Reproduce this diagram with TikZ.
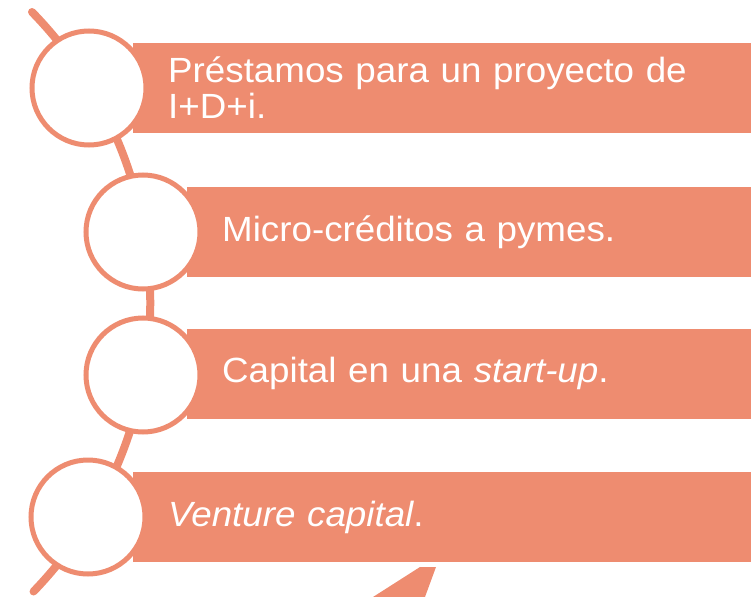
\documentclass[tikz,border=0pt]{standalone}
\usepackage{fontspec}
\setmainfont[FakeStretch=1.05]{Liberation Sans}
\usepackage{tikz}
\definecolor{salmon}{RGB}{238,140,112}

\begin{document}
\begin{tikzpicture}[x=1pt,y=-1pt,
    bar/.style={rectangle,fill=salmon,text=white,anchor=west,minimum height=90pt,
      inner xsep=35pt,inner ysep=0pt,align=left,font=\fontsize{35}{36}\selectfont},
    ring/.style={circle,draw=salmon,fill=white,line width=5pt,minimum size=114pt,inner sep=0pt}]
    \useasboundingbox (0,0) rectangle (756,597);
    \draw[salmon,line width=8pt,line cap=round] (32,12) arc[start angle=-44.3,end angle=44,radius=416];
    \fill[salmon] (420,567) -- (436,567) -- (425,597) -- (373,597) -- cycle;
    \node[bar,text width=548pt] (r1) at (133,88) {Préstamos para un proyecto de\\I+D+i.};
    \node[bar,text width=494pt] (r2) at (187,232) {Micro-créditos a pymes.};
    \node[bar,text width=494pt] (r3) at (187,373.5) {Capital en una \textit{start-up}.};
    \node[bar,text width=548pt] (r4) at (133,517) {\textit{Venture capital}.};
    \node[ring] (c1) at (89,88) {};
    \node[ring] (c2) at (143,232) {};
    \node[ring] (c3) at (143,375) {};
    \node[ring] (c4) at (88,517) {};
\end{tikzpicture}
\end{document}
